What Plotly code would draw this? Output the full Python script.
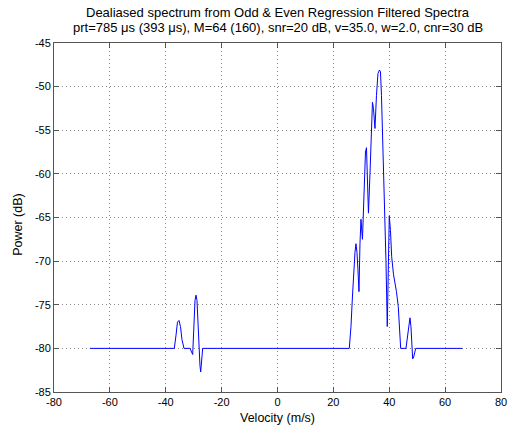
import plotly.graph_objects as go

# Dealiased Doppler spectrum: velocity bins (m/s) and power (dB)
velocity = [
    -67.12, -36.94, -36.33, -35.80, -35.26, -34.72, -34.19, -33.47,
    -31.32, -30.79, -30.36, -30.00, -29.53, -29.18, -28.82, -28.46,
    -28.10, -27.75, -27.49, -27.14, -26.78,
    25.69, 26.30, 26.84, 27.37, 27.73, 28.09, 28.45, 28.80, 29.16,
    29.52, 29.88, 30.41, 30.95, 31.49, 31.85, 32.20, 32.56, 33.10,
    33.64, 33.99, 34.35, 34.89, 35.43, 35.96, 36.50, 36.86, 37.22,
    37.57, 37.93, 38.47, 38.83, 39.29, 39.65, 40.01, 40.44, 40.87,
    41.51, 42.05, 42.58, 43.23, 43.66, 44.09,
    45.98, 46.52, 47.06, 47.42, 47.77, 48.13, 48.38, 48.74, 49.10,
    49.46, 66.14,
]
power = [
    -80.0, -80.0, -78.5, -77.0, -76.8, -77.5, -79.0, -80.0,
    -80.0, -80.3, -80.7, -78.0, -74.5, -73.9, -74.5, -77.0,
    -80.0, -82.0, -82.7, -81.5, -80.0,
    -80.0, -77.5, -74.0, -70.5, -69.0, -68.0, -69.0, -71.0, -73.5,
    -68.0, -65.2, -67.5, -62.0, -57.5, -57.0, -61.0, -64.5, -60.0,
    -55.0, -51.8, -52.5, -54.8, -51.0, -48.5, -48.1, -48.3, -51.0,
    -55.0, -59.0, -65.0, -70.0, -77.5, -70.0, -64.8, -66.5, -69.5,
    -71.5, -72.5, -73.5, -75.2, -77.5, -80.0,
    -80.0, -78.5, -76.8, -76.5, -77.5, -80.0, -81.2, -81.0, -80.3,
    -80.0, -80.0,
]

x_ticks = [-80, -60, -40, -20, 0, 20, 40, 60, 80]
y_ticks = [-85, -80, -75, -70, -65, -60, -55, -50, -45]

title_lines = [
    "Dealiased spectrum from Odd &amp; Even Regression Filtered Spectra",
    "prt=785 \u03bcs (393 \u03bcs), M=64 (160), snr=20 dB, v=35.0, w=2.0, cnr=30 dB",
]
x_label = "Velocity (m/s)"
y_label = "Power (dB)"

FONT = "Liberation Sans, Arial, Helvetica"

fig = go.Figure()
fig.add_trace(go.Scatter(
    x=velocity, y=power, mode="lines",
    line=dict(color="#0000ff", width=1),
    hoverinfo="x+y",
))

axis_common = dict(
    showline=True, linecolor="#555555", linewidth=1, mirror="ticks",
    ticks="inside", ticklen=5, tickcolor="#555555",
    showgrid=True, gridcolor="#8a8a8a", griddash="1px,3px", gridwidth=1,
    zeroline=False, ticklabeloverflow="allow", automargin=False,
    tickfont=dict(family=FONT, size=11, color="#000000"),
)

fig.update_layout(
    width=507, height=428,
    margin=dict(l=54, r=6, t=43, b=36),
    paper_bgcolor="#ffffff", plot_bgcolor="#ffffff",
    showlegend=False,
    xaxis=dict(
        range=[-80, 80], tickvals=x_ticks, ticktext=[str(t) for t in x_ticks],
        **axis_common,
    ),
    yaxis=dict(
        range=[-85, -45], tickvals=y_ticks, ticktext=[str(t) for t in y_ticks],
        **axis_common,
    ),
)

# two-line title centred over the plotting area
for text, ypos in zip(title_lines, [1.0888, 1.0458]):
    fig.add_annotation(
        text=text, xref="paper", yref="paper", x=0.5, y=ypos,
        xanchor="center", yanchor="middle", showarrow=False,
        font=dict(family=FONT, size=13, color="#000000"),
    )

# axis labels
fig.add_annotation(
    text=x_label, xref="paper", yref="paper", x=0.5, y=-0.075,
    xanchor="center", yanchor="middle", showarrow=False,
    font=dict(family=FONT, size=12.5, color="#000000"),
)
fig.add_annotation(
    text=y_label, xref="paper", yref="paper", x=-0.0805, y=0.479,
    xanchor="center", yanchor="middle", showarrow=False, textangle=-90,
    font=dict(family=FONT, size=12.5, color="#000000"),
)

fig.write_html("out.html")
